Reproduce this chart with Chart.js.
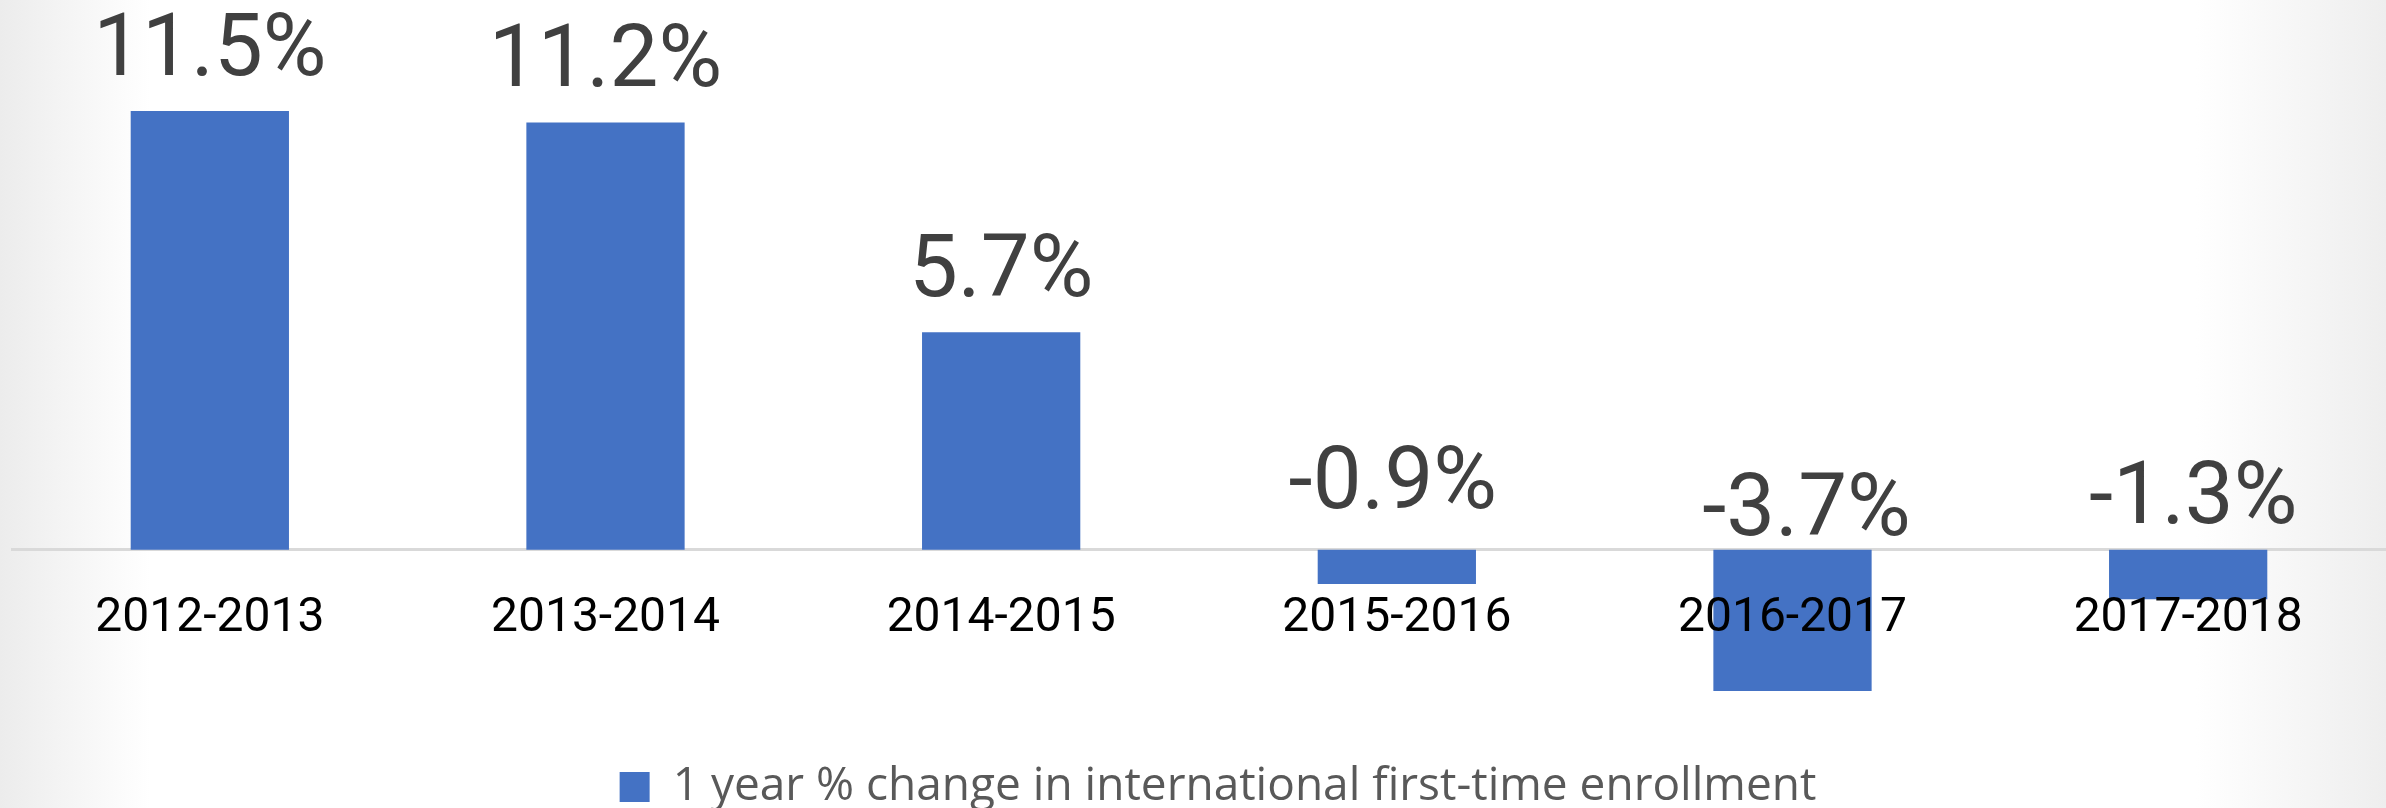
<!DOCTYPE html>
<html>
<head>
<meta charset="utf-8">
<script src="https://cdn.jsdelivr.net/npm/chart.js@4/dist/chart.umd.min.js"></script>
<style>
  html, body { margin: 0; padding: 0; }
  body {
    width: 2386px; height: 808px; overflow: hidden;
    background:
      linear-gradient(to right, rgba(236,236,236,1) 0px, rgba(255,255,255,0) 150px),
      linear-gradient(to left, rgba(238,238,238,1) 0px, rgba(255,255,255,0) 190px),
      #ffffff;
  }
  #wrap { position: relative; width: 2386px; height: 808px; }
</style>
</head>
<body>
<div id="wrap"><canvas id="c" width="2386" height="808"></canvas></div>
<script>
// ---- data ----
const categories = ['2012-2013', '2013-2014', '2014-2015', '2015-2016', '2016-2017', '2017-2018'];
const pctChange = [11.5, 11.2, 5.7, -0.9, -3.7, -1.3];
const seriesName = '1 year % change in international first-time enrollment';

// ---- label placement (styling only) ----
const labelStyle = {
  font: '87px Roboto',
  color: '#404040',
  gapAbove: 36,
  negBaselineAboveZero: [0, 0, 0, 42, 15, 27],
  dx: [0, 0, 0, -4, 14, 5]
};

const valueLabels = {
  id: 'valueLabels',
  afterDatasetsDraw(chart) {
    const ctx = chart.ctx;
    const meta = chart.getDatasetMeta(0);
    const yScale = chart.scales.y;
    const zero = yScale.getPixelForValue(0);
    ctx.save();
    ctx.font = labelStyle.font;
    ctx.fillStyle = labelStyle.color;
    ctx.textAlign = 'center';
    ctx.textBaseline = 'alphabetic';
    meta.data.forEach((bar, i) => {
      const v = chart.data.datasets[0].data[i];
      const txt = v.toFixed(1) + '%';
      let y;
      if (v >= 0) y = bar.y - labelStyle.gapAbove;
      else y = zero - labelStyle.negBaselineAboveZero[i];
      ctx.fillText(txt, bar.x + labelStyle.dx[i], y);
    });
    ctx.restore();
  }
};

const legendShift = {
  id: 'legendShift',
  afterLayout(chart) {
    if (chart.legend) { chart.legend.left += 19; chart.legend.right += 19; }
  }
};

new Chart(document.getElementById('c'), {
  type: 'bar',
  data: {
    labels: categories,
    datasets: [{
      label: seriesName,
      data: pctChange,
      backgroundColor: '#4472C4',
      borderWidth: 0,
      barPercentage: 1.0,
      categoryPercentage: 0.4
    }]
  },
  options: {
    responsive: false,
    animation: false,
    devicePixelRatio: 1,
    layout: { padding: { left: 12, right: 0, top: 0, bottom: -12 } },
    scales: {
      x: {
        position: { y: 0 },
        grid: { display: true, color: 'rgba(0,0,0,0)', drawTicks: false },
        border: { display: true, color: '#d9d9d9', width: 3 },
        ticks: { z: 1, color: '#000000', font: { family: 'Roboto', size: 48 }, padding: 40, maxRotation: 0, autoSkip: false }
      },
      y: {
        display: false,
        min: -5.354,
        max: 14.41
      }
    },
    plugins: {
      legend: {
        position: 'bottom',
        labels: {
          color: '#595959',
          font: { family: 'Open Sans', size: 46 },
          boxWidth: 30,
          boxHeight: 30,
          padding: 10
        }
      },
      tooltip: { enabled: false }
    }
  },
  plugins: [valueLabels, legendShift]
});
</script>
</body>
</html>
